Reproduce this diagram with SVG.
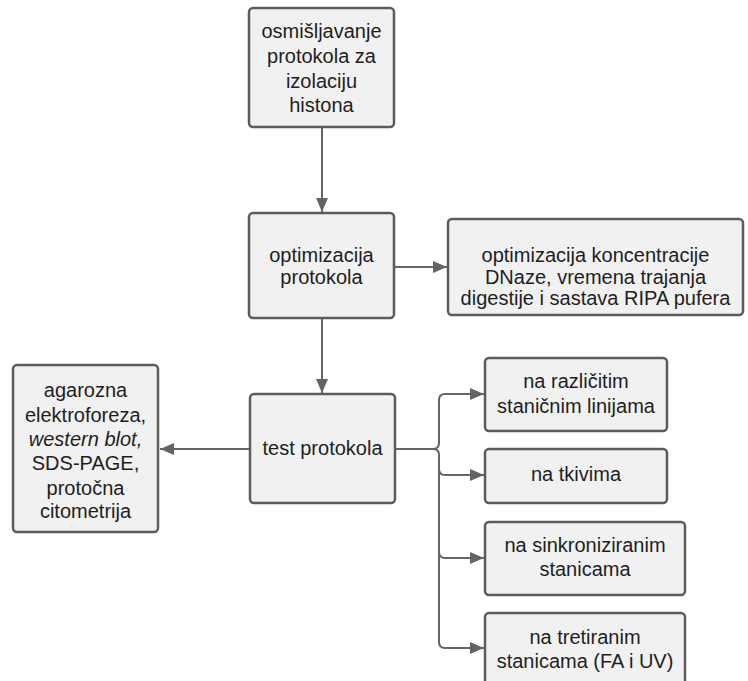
<svg xmlns="http://www.w3.org/2000/svg" width="748" height="681" viewBox="0 0 748 681">
<defs>
<style>
.box{fill:#f1f1f1;stroke:#5c5c5c;stroke-width:2.5}
.t{font-family:"Liberation Sans",Arial,sans-serif;font-size:20px;fill:#1e1e1e;text-anchor:middle}
.c{fill:none;stroke:#646464;stroke-width:2}
</style>
<marker id="ah" markerUnits="userSpaceOnUse" markerWidth="15" markerHeight="12" refX="14" refY="6" orient="auto">
<path d="M0,0 L14,6 L0,12 Z" fill="#646464"/>
</marker>
</defs>
<rect width="748" height="681" fill="#ffffff"/>
<g id="connectors">
<path class="c" d="M322 127 V212" marker-end="url(#ah)"/>
<path class="c" d="M322 318 V393" marker-end="url(#ah)"/>
<path class="c" d="M394 267 H447" marker-end="url(#ah)"/>
<path class="c" d="M250 449 H160" marker-end="url(#ah)"/>
<path class="c" d="M395 449 H433 Q439 449 439 443 V400 Q439 394 445 394 H484" marker-end="url(#ah)"/>
<path class="c" d="M433 449 Q439 449 439 455 V469 Q439 475 445 475 H484" marker-end="url(#ah)"/>
<path class="c" d="M439 469 V552 Q439 558 445 558 H484" marker-end="url(#ah)"/>
<path class="c" d="M439 552 V642 Q439 648 445 648 H484" marker-end="url(#ah)"/>
</g>
<g id="n1">
<rect class="box" x="249" y="8" width="145" height="119" rx="4"/>
<text class="t"><tspan x="321.5" y="38">osmišljavanje</tspan><tspan x="321.5" y="63">protokola za</tspan><tspan x="321.5" y="88">izolaciju</tspan><tspan x="321.5" y="112">histona</tspan></text>
</g>
<g id="n2">
<rect class="box" x="249" y="213" width="145" height="105" rx="4"/>
<text class="t"><tspan x="321.5" y="262">optimizacija</tspan><tspan x="321.5" y="284">protokola</tspan></text>
</g>
<g id="n3">
<rect class="box" x="448" y="219" width="295" height="96" rx="4"/>
<text class="t"><tspan x="595.5" y="262">optimizacija koncentracije</tspan><tspan x="595.5" y="283.5">DNaze, vremena trajanja</tspan><tspan x="595.5" y="305">digestije i sastava RIPA pufera</tspan></text>
</g>
<g id="n4">
<rect class="box" x="250" y="394" width="145" height="109" rx="4"/>
<text class="t" x="322.5" y="455">test protokola</text>
</g>
<g id="n5">
<rect class="box" x="13" y="365" width="145" height="167" rx="4"/>
<text class="t"><tspan x="85.5" y="397">agarozna</tspan><tspan x="85.5" y="422">elektroforeza,</tspan><tspan x="85.5" y="446" font-style="italic">western blot,</tspan><tspan x="85.5" y="470">SDS-PAGE,</tspan><tspan x="85.5" y="495">protočna</tspan><tspan x="85.5" y="518">citometrija</tspan></text>
</g>
<g id="n6">
<rect class="box" x="485" y="358" width="182" height="73" rx="4"/>
<text class="t"><tspan x="576" y="388">na različitim</tspan><tspan x="576" y="413">staničnim linijama</tspan></text>
</g>
<g id="n7">
<rect class="box" x="485" y="449" width="182" height="54" rx="4"/>
<text class="t" x="576" y="481">na tkivima</text>
</g>
<g id="n8">
<rect class="box" x="485" y="522" width="200" height="73" rx="4"/>
<text class="t"><tspan x="585" y="552">na sinkroniziranim</tspan><tspan x="585" y="576">stanicama</tspan></text>
</g>
<g id="n9">
<rect class="box" x="485" y="613" width="200" height="80" rx="4"/>
<text class="t"><tspan x="585" y="644">na tretiranim</tspan><tspan x="585" y="668">stanicama (FA i UV)</tspan></text>
</g>
</svg>
